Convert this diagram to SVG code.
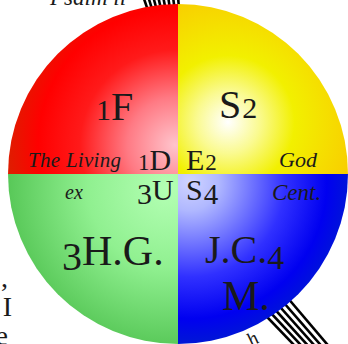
<svg xmlns="http://www.w3.org/2000/svg" width="348" height="344" viewBox="0 0 348 344">
<style>
.t{font-family:"Liberation Serif","DejaVu Serif",serif;fill:#1a1a1a;font-variant-numeric:oldstyle-nums}
.i{font-style:italic}
.ln{stroke:#000;stroke-width:2.6;fill:none}
</style>
<defs>
<radialGradient id="gR" gradientUnits="userSpaceOnUse" cx="175" cy="145" r="190">
<stop offset="0" stop-color="#ffc4cc"/><stop offset="0.25" stop-color="#ff7a84"/><stop offset="0.5" stop-color="#ff1a1a"/><stop offset="0.72" stop-color="#ff0000"/><stop offset="1" stop-color="#c83200"/>
</radialGradient>
<radialGradient id="gY" gradientUnits="userSpaceOnUse" cx="228" cy="122" r="175">
<stop offset="0" stop-color="#ffffff"/><stop offset="0.18" stop-color="#fafa90"/><stop offset="0.38" stop-color="#f2f000"/><stop offset="0.72" stop-color="#f8d000"/><stop offset="1" stop-color="#f5a800"/>
</radialGradient>
<radialGradient id="gG" gradientUnits="userSpaceOnUse" cx="168" cy="188" r="200">
<stop offset="0" stop-color="#b4ffb4"/><stop offset="0.4" stop-color="#90f090"/><stop offset="1" stop-color="#3cb43c"/>
</radialGradient>
<radialGradient id="gB" gradientUnits="userSpaceOnUse" cx="190" cy="182" r="190">
<stop offset="0" stop-color="#d0d4ff"/><stop offset="0.15" stop-color="#b0b8ff"/><stop offset="0.5" stop-color="#3030ff"/><stop offset="0.72" stop-color="#0000f0"/><stop offset="1" stop-color="#0030b8"/>
</radialGradient>
</defs>
<rect width="348" height="344" fill="#fff"/>
<g id="connectors">
<line class="ln" x1="143" y1="-4" x2="152" y2="22"/>
<line class="ln" x1="148" y1="-4" x2="156" y2="22"/>
<line class="ln" x1="153" y1="-4" x2="160" y2="22"/>
<line class="ln" x1="158" y1="-4" x2="164" y2="22"/>
<line class="ln" x1="163" y1="-4" x2="168" y2="22"/>
<line class="ln" x1="168" y1="-4" x2="172" y2="22"/>
<line class="ln" x1="173" y1="-4" x2="176" y2="22"/>
<line class="ln" x1="178" y1="-4" x2="180" y2="22"/>
<line class="ln" x1="231.6" y1="280" x2="298.8" y2="350"/>
<line class="ln" x1="240" y1="280" x2="305.5" y2="350"/>
<line class="ln" x1="248" y1="280" x2="312" y2="350"/>
<line class="ln" x1="256" y1="280" x2="318.5" y2="350"/>
<line class="ln" x1="264" y1="280" x2="325" y2="350"/>
<line class="ln" x1="272.5" y1="280" x2="332" y2="350"/>
</g>
<g id="red">
<path d="M178,174 L8,174 A170,170 0 0 1 178,4 Z" fill="url(#gR)"/>
<text class="t" x="96" y="120" font-size="40"><tspan font-size="30">1</tspan>F</text>
<text class="t i" x="28" y="167" font-size="21" textLength="93">The Living</text>
<text class="t" x="138" y="170" font-size="30"><tspan font-size="23">1</tspan>D</text>
</g>
<g id="yellow">
<path d="M178,174 L178,4 A170,170 0 0 1 348,174 Z" fill="url(#gY)"/>
<text class="t" x="219" y="118" font-size="40">S<tspan font-size="30" dx="1">2</tspan></text>
<text class="t" x="186" y="170" font-size="30">E<tspan font-size="23" dx="1">2</tspan></text>
<text class="t i" x="279" y="167" font-size="22">God</text>
</g>
<g id="green">
<path d="M178,174 L178,344 A170,170 0 0 1 8,174 Z" fill="url(#gG)"/>
<text class="t i" x="65" y="199" font-size="20">ex</text>
<text class="t" x="137" y="200" font-size="30"><tspan dy="4">3</tspan><tspan dy="-4">U</tspan></text>
<text class="t" x="62" y="265" font-size="42"><tspan font-size="40" dy="5">3</tspan><tspan dy="-5">H.G.</tspan></text>
</g>
<g id="blue">
<path d="M178,174 L348,174 A170,170 0 0 1 178,344 Z" fill="url(#gB)"/>
<text class="t" x="186" y="200" font-size="30">S<tspan font-size="29" dy="4" dx="1">4</tspan></text>
<text class="t i" x="272" y="200" font-size="23">Cent.</text>
<text class="t" x="205" y="263" font-size="40">J.C.<tspan font-size="34" dy="6">4</tspan></text>
<text class="t" x="222" y="310" font-size="42">M.</text>
</g>
<g id="fragments">
<text class="t i" x="50" y="5" font-size="23">Psalm ii</text>
<text class="t" x="8" y="287" font-size="28" text-anchor="end">,</text>
<text class="t" x="12" y="316" font-size="28" text-anchor="end">I</text>
<text class="t" x="8" y="345" font-size="28" text-anchor="end">e</text>
<text class="t i" x="248" y="346" font-size="20" transform="rotate(-35 252 340)">h</text>
</g>
</svg>
